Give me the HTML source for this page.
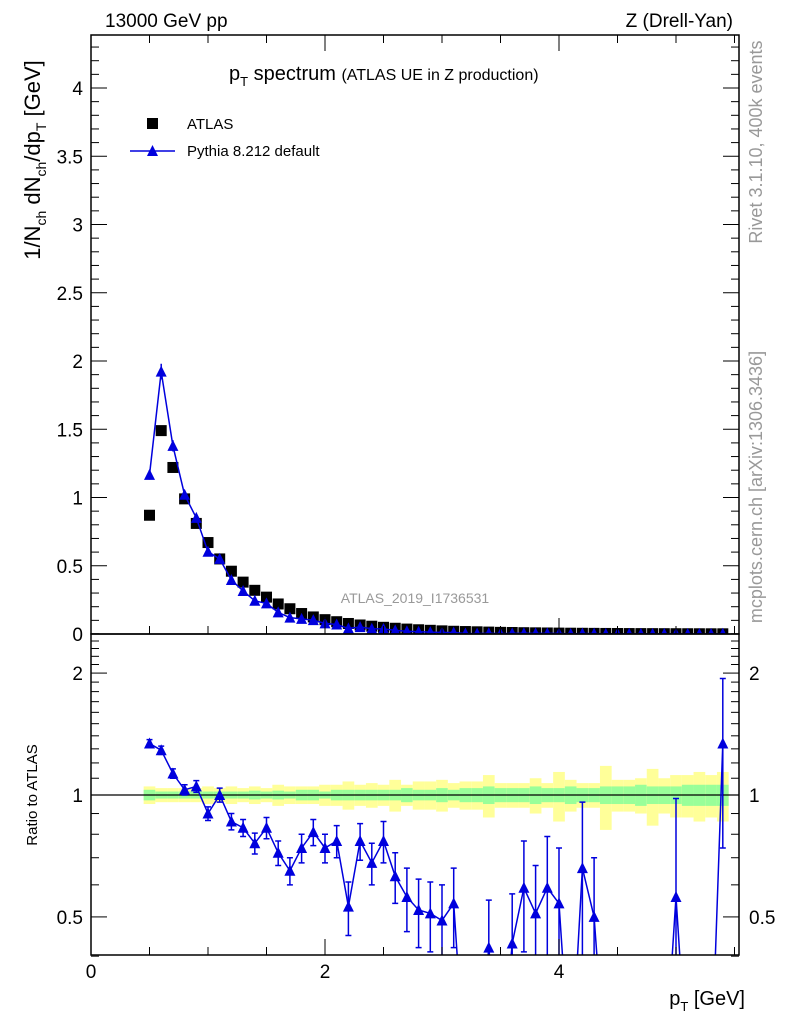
<!DOCTYPE html>
<html><head><meta charset="utf-8"><style>
html,body{margin:0;background:#fff;overflow:hidden;width:786px;height:1024px;}
svg{display:block;font-family:"Liberation Sans",Arial,sans-serif;}
</style></head><body>
<svg id="c" width="786" height="1024" viewBox="0 0 786 1024">
<text x="105" y="27" font-size="19">13000 GeV pp</text>
<text x="733" y="27" font-size="19" text-anchor="end">Z (Drell-Yan)</text>
<text x="229" y="80" font-size="20">p<tspan font-size="13" dy="6">T</tspan><tspan dy="-6"> spectrum </tspan><tspan font-size="16">(ATLAS UE in Z production)</tspan></text>
<text transform="translate(762,142) rotate(-90)" font-size="18" fill="#999" text-anchor="middle">Rivet 3.1.10,  400k events</text>
<text transform="translate(762,487) rotate(-90)" font-size="18" fill="#999" text-anchor="middle">mcplots.cern.ch [arXiv:1306.3436]</text>
<text x="415" y="603" font-size="14" fill="#999" text-anchor="middle">ATLAS_2019_I1736531</text>
<text transform="translate(40,160) rotate(-90)" font-size="22" text-anchor="middle">1/N<tspan font-size="14" dy="6">ch</tspan><tspan dy="-6"> dN</tspan><tspan font-size="14" dy="6">ch</tspan><tspan dy="-6">/dp</tspan><tspan font-size="14" dy="6">T</tspan><tspan dy="-6"> [GeV]</tspan></text>
<text transform="translate(37,795) rotate(-90)" font-size="15" text-anchor="middle">Ratio to ATLAS</text>
<text x="745" y="1005" font-size="20" text-anchor="end">p<tspan font-size="13" dy="6">T</tspan><tspan dy="-6"> [GeV]</tspan></text>
<g>
<rect x="147" y="118" width="11" height="11" fill="#000"/>
<text x="187" y="129" font-size="15">ATLAS</text>
<line x1="130" y1="151" x2="175" y2="151" stroke="#0000dd" stroke-width="1.5"/>
<polygon points="152.5,145 147,156 158,156" fill="#0000dd"/>
<text x="187" y="156" font-size="15">Pythia 8.212 default</text>
</g>
<g id="g"></g>
</svg>
<script>
const xCenters=[0.5,0.6,0.7,0.8,0.9,1.0,1.1,1.2,1.3,1.4,1.5,1.6,1.7,1.8,1.9,2.0,2.1,2.2,2.3,2.4,2.5,2.6,2.7,2.8,2.9,3.0,3.1,3.2,3.3,3.4,3.5,3.6,3.7,3.8,3.9,4.0,4.1,4.2,4.3,4.4,4.5,4.6,4.7,4.8,4.9,5.0,5.1,5.2,5.3,5.4];
const atlasVals=[0.87,1.49,1.22,0.99,0.81,0.67,0.55,0.46,0.38,0.32,0.27,0.22,0.185,0.15,0.125,0.105,0.09,0.077,0.066,0.057,0.049,0.042,0.036,0.031,0.027,0.023,0.02,0.018,0.016,0.014,0.012,0.011,0.0095,0.0085,0.0075,0.0066,0.0058,0.0052,0.0046,0.004,0.0036,0.0032,0.0029,0.0026,0.0023,0.0021,0.0019,0.0017,0.0015,0.0014];
const ratioVals=[1.34,1.29,1.13,1.03,1.05,0.90,1.0,0.86,0.83,0.76,0.83,0.72,0.65,0.74,0.81,0.74,0.77,0.53,0.77,0.68,0.77,0.63,0.56,0.52,0.51,0.49,0.54,0.2,0.2,0.42,0.2,0.43,0.59,0.51,0.59,0.54,0.2,0.66,0.50,0.2,0.2,0.2,0.2,0.2,0.2,0.56,0.2,0.2,0.2,1.34];
const ratioErr=[0.03,0.03,0.03,0.03,0.035,0.035,0.04,0.04,0.04,0.045,0.05,0.05,0.05,0.06,0.06,0.06,0.07,0.08,0.08,0.08,0.09,0.09,0.1,0.1,0.1,0.11,0.12,0.02,0.02,0.13,0.02,0.14,0.18,0.16,0.2,0.2,0.02,0.3,0.2,0.02,0.02,0.02,0.02,0.02,0.02,0.42,0.02,0.02,0.02,0.6];
const greenBand=[0.03,0.02,0.02,0.02,0.02,0.02,0.02,0.02,0.02,0.025,0.02,0.025,0.02,0.03,0.03,0.02,0.03,0.03,0.03,0.03,0.03,0.03,0.04,0.03,0.03,0.04,0.03,0.04,0.04,0.05,0.04,0.04,0.04,0.05,0.04,0.04,0.05,0.04,0.04,0.05,0.05,0.05,0.06,0.05,0.05,0.05,0.06,0.06,0.06,0.06];
const yellowBand=[0.05,0.04,0.04,0.04,0.04,0.05,0.04,0.05,0.04,0.05,0.04,0.06,0.05,0.05,0.05,0.06,0.06,0.08,0.06,0.07,0.06,0.09,0.06,0.08,0.08,0.09,0.07,0.08,0.08,0.12,0.07,0.07,0.07,0.1,0.07,0.14,0.09,0.07,0.07,0.18,0.09,0.09,0.1,0.16,0.1,0.12,0.12,0.14,0.12,0.14];
const mainTicks=[0,0.5,1,1.5,2,2.5,3,3.5,4];
const mainTickLabels=["0","0.5","1","1.5","2","2.5","3","3.5","4"];
const ratioTicks=[0.5,1,2];
const ratioTickLabels=["0.5","1","2"];
const xTicks=[0,2,4];
const xTickLabels=["0","2","4"];

const L=91,R=739,T=35,MB=634,RB=955;
const X=v=>L+v*117;
const Y=v=>MB-v*136.5;
const RY=v=>795-Math.log10(v)*405;
const g=document.getElementById('g');
const NS='http://www.w3.org/2000/svg';
function mk(t,a,parent){const e=document.createElementNS(NS,t);for(const k in a)e.setAttribute(k,a[k]);(parent||g).appendChild(e);return e;}
const defs=mk('defs',{});
const c1=mk('clipPath',{id:'cm'},defs);mk('rect',{x:L,y:T,width:R-L,height:MB-T},c1);
const c2=mk('clipPath',{id:'cr'},defs);mk('rect',{x:L,y:MB,width:R-L,height:RB-MB},c2);
const gm=mk('g',{'clip-path':'url(#cm)'});


const gr=mk('g',{'clip-path':'url(#cr)'});


xCenters.forEach((x,i)=>{
  const x0=X(x-0.05),w=117*0.1;
  const yb=mk('rect',{x:x0,y:RY(1+yellowBand[i]),width:w,height:RY(1-yellowBand[i])-RY(1+yellowBand[i]),fill:'#ffff99'},gr);
  
  
  const gb=mk('rect',{x:x0,y:RY(1+greenBand[i]),width:w,height:RY(1-greenBand[i])-RY(1+greenBand[i]),fill:'#99ff99'},gr);
  
  
});
const one=mk('line',{x1:L,x2:R,y1:RY(1),y2:RY(1),stroke:'#000','stroke-width':1.3},gr);


const pyVals=atlasVals.map((a,i)=>a*ratioVals[i]);
xCenters.forEach((x,i)=>{
  const s=mk('rect',{x:X(x)-5.5,y:Y(atlasVals[i])-5.5,width:11,height:11,fill:'#000'},gm);
  
  
});
const pl=mk('polyline',{points:xCenters.map((x,i)=>X(x)+','+Y(pyVals[i])).join(' '),fill:'none',stroke:'#0000dd','stroke-width':1.5},gm);


function tri(par,x,y,nm){const p=mk('polygon',{points:`${x},${y-6} ${x-5.5},${y+5} ${x+5.5},${y+5}`,fill:'#0000dd'},par);

}
xCenters.forEach((x,i)=>{
  const e=pyVals[i]*ratioErr[i];
  if(i<3){const el=mk('line',{x1:X(x),x2:X(x),y1:Y(pyVals[i]+e),y2:Y(pyVals[i]-e),stroke:'#0000dd','stroke-width':1.5},gm);
  
  }
  tri(gm,X(x),Y(pyVals[i]),'pythia-point');
});
const rl=mk('polyline',{points:xCenters.map((x,i)=>X(x)+','+RY(ratioVals[i])).join(' '),fill:'none',stroke:'#0000dd','stroke-width':1.5},gr);


xCenters.forEach((x,i)=>{
  const r=ratioVals[i],e=ratioErr[i];
  const y1=RY(r+e),y2=RY(Math.max(r-e,0.05));
  const eb=mk('path',{d:`M${X(x)},${y1}V${y2}M${X(x)-3},${y1}H${X(x)+3}M${X(x)-3},${y2}H${X(x)+3}`,stroke:'#0000dd','stroke-width':1.5,fill:'none'},gr);
  
  
  tri(gr,X(x),RY(r),'ratio-point');
});
[[T,MB],[MB,RB]].forEach(([a,b],k)=>{
  const f=mk('rect',{x:L,y:a,width:R-L,height:b-a,fill:'none',stroke:'#000','stroke-width':1.5});
  
  
});
for(let v=0;v<=4.35;v+=0.1){const vv=Math.round(v*10)/10;const maj=Math.abs(vv*2-Math.round(vv*2))<1e-6;const len=maj?16:8;
  mk('line',{x1:L,x2:L+len,y1:Y(vv),y2:Y(vv),stroke:'#000'});mk('line',{x1:R,x2:R-len,y1:Y(vv),y2:Y(vv),stroke:'#000'});}
mainTicks.forEach((v,i)=>{const t=mk('text',{x:L-8,y:Y(v)+7,'font-size':19,'text-anchor':'end'});t.textContent=mainTickLabels[i];
  
  });
[0.4,0.5,0.6,0.7,0.8,0.9,1,1.1,1.2,1.3,1.4,1.5,1.6,1.7,1.8,1.9,2,2.1,2.2,2.3,2.4,2.5].forEach(v=>{const maj=ratioTicks.includes(v);const len=maj?16:8;
  mk('line',{x1:L,x2:L+len,y1:RY(v),y2:RY(v),stroke:'#000'});mk('line',{x1:R,x2:R-len,y1:RY(v),y2:RY(v),stroke:'#000'});});
ratioTicks.forEach((v,i)=>{
  const t=mk('text',{x:L-8,y:RY(v)+7,'font-size':19,'text-anchor':'end'});t.textContent=ratioTickLabels[i];
  
  
  const t2=mk('text',{x:R+10,y:RY(v)+7,'font-size':19});t2.textContent=ratioTickLabels[i];
  
  });
for(let v=0;v<=5.6;v+=0.5){const maj=Math.abs(v%2)<1e-6;const len=maj?16:8;
  [MB,RB].forEach(b=>mk('line',{x1:X(v),x2:X(v),y1:b,y2:b-len,stroke:'#000'}));
  mk('line',{x1:X(v),x2:X(v),y1:T,y2:T+len,stroke:'#000'});}
xTicks.forEach((v,i)=>{const t=mk('text',{x:X(v),y:978,'font-size':19,'text-anchor':'middle'});t.textContent=xTickLabels[i];
  
  });
</script>
</body></html>
